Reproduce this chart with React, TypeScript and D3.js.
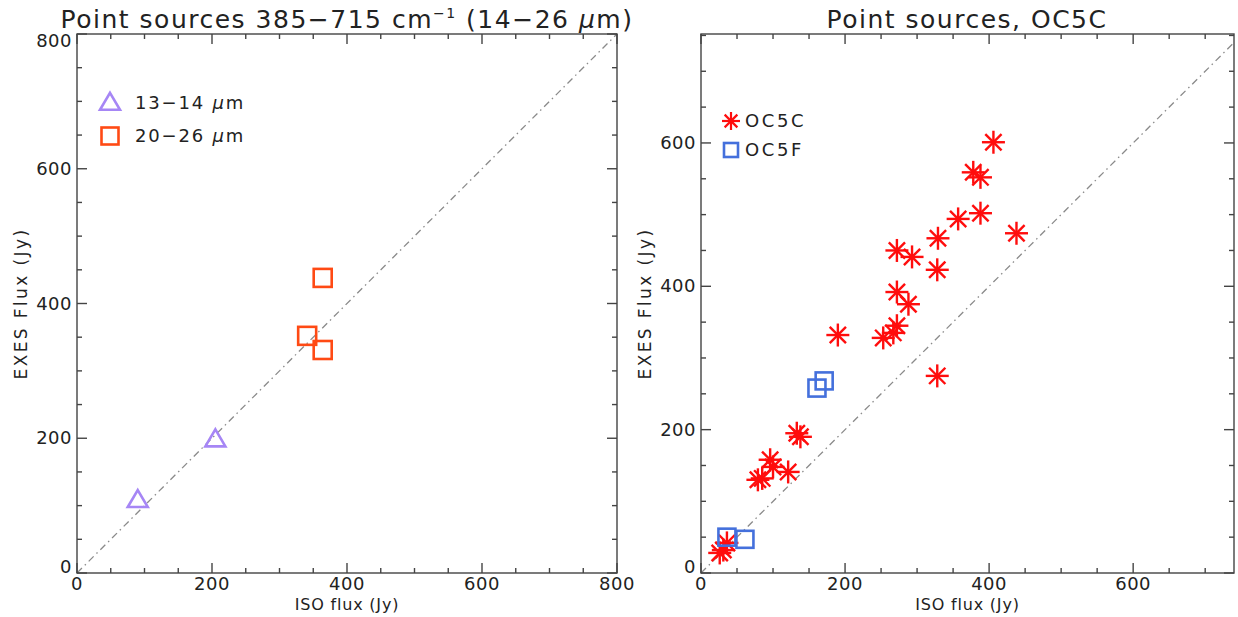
import React from "react";
import * as d3 from "d3";

// ---------- Data ----------
const leftTriangles: [number, number][] = [
  [90, 108],
  [205, 198],
];
const leftSquares: [number, number][] = [
  [364, 438],
  [341, 352],
  [364, 331],
];
const rightStars: [number, number][] = [
  [406, 601], [378, 559], [388, 552], [388, 502], [357, 494], [438, 474],
  [329, 467], [272, 450], [293, 441], [328, 423], [272, 392], [288, 375],
  [272, 345], [267, 335], [253, 328], [190, 332], [328, 275], [133, 195],
  [138, 190], [96, 158], [100, 148], [85, 132], [79, 130], [121, 141],
  [31, 32], [26, 28], [36, 42],
];
const rightSquares: [number, number][] = [
  [36, 50], [61, 47], [161, 258], [171, 268],
];
const leftTicks = [0, 200, 400, 600, 800];
const rightTicks = [0, 200, 400, 600];

const FONT = "'DejaVu Sans', 'Liberation Sans', sans-serif";
const AXIS = "#444";
const TXT = "#222";

type PanelProps = {
  x0: number; x1: number; y0: number; y1: number;
  xDomain: [number, number]; yDomain: [number, number];
  ticks: number[]; minorStep: number;
  title: React.ReactNode; titleX: number;
  children: (sx: d3.ScaleLinear<number, number>, sy: d3.ScaleLinear<number, number>) => React.ReactNode;
};

function Panel(p: PanelProps) {
  const sx = d3.scaleLinear().domain(p.xDomain).range([p.x0, p.x1]);
  const sy = d3.scaleLinear().domain(p.yDomain).range([p.y0, p.y1]);
  const minorX = d3.range(p.xDomain[0], p.xDomain[1] + 0.001, p.minorStep);
  const minorY = d3.range(p.yDomain[0], p.yDomain[1] + 0.001, p.minorStep);
  const isMajor = (v: number) => p.ticks.includes(v);
  const ticks: React.ReactNode[] = [];
  minorX.forEach((v, i) => {
    const L = isMajor(v) ? 10 : 5;
    const x = sx(v);
    ticks.push(<line key={"xb" + i} x1={x} x2={x} y1={p.y0} y2={p.y0 - L} />);
    ticks.push(<line key={"xt" + i} x1={x} x2={x} y1={p.y1} y2={p.y1 + L} />);
  });
  minorY.forEach((v, i) => {
    const L = isMajor(v) ? 10 : 5;
    const y = sy(v);
    ticks.push(<line key={"yl" + i} x1={p.x0} x2={p.x0 + L} y1={y} y2={y} />);
    ticks.push(<line key={"yr" + i} x1={p.x1} x2={p.x1 - L} y1={y} y2={y} />);
  });
  const dmax = Math.min(p.xDomain[1], p.yDomain[1]);
  return (
    <g>
      {/* diagonal 1:1 line */}
      <line
        x1={sx(0)} y1={sy(0)} x2={sx(dmax)} y2={sy(dmax)}
        stroke="#8a8a8a" strokeWidth={1.3} strokeDasharray="7,4,1.5,4"
      />
      {p.children(sx, sy)}
      <g stroke={AXIS} strokeWidth={1.4}>
        <rect x={p.x0} y={p.y1} width={p.x1 - p.x0} height={p.y0 - p.y1} fill="none" />
        {ticks}
      </g>
      <g fontFamily={FONT} fontSize={18} fill={TXT} letterSpacing={0.5}>
        {p.ticks.filter((t) => t <= p.xDomain[1]).map((t) => (
          <text key={"xl" + t} x={sx(t)} y={p.y0 + 17} textAnchor="middle">{t}</text>
        ))}
        {p.ticks.filter((t) => t <= p.yDomain[1]).map((t) => {
          let y = sy(t) + 6;
          if (t === 0) y -= 6;
          if (t === 800) y += 7;
          return (
            <text key={"yl" + t} x={p.x0 - 5} y={y} textAnchor="end">{t}</text>
          );
        })}
      </g>
      <text
        x={(p.x0 + p.x1) / 2} y={p.y0 + 37} textAnchor="middle"
        fontFamily={FONT} fontSize={16} fill={TXT} letterSpacing={0.8}
      >ISO flux (Jy)</text>
      <text
        transform={`translate(${p.x0 - 50},${(p.y0 + p.y1) / 2}) rotate(-90)`}
        textAnchor="middle" fontFamily={FONT} fontSize={17} fill={TXT} letterSpacing={2.4}
      >EXES Flux (Jy)</text>
      <text
        x={p.titleX} y={28} textAnchor="middle"
        fontFamily={FONT} fontSize={25} fill={TXT} letterSpacing={1.5}
      >{p.title}</text>
    </g>
  );
}

function Star({ x, y, r, color, w }: { x: number; y: number; r: number; color: string; w: number }) {
  const d = r * Math.SQRT1_2;
  return (
    <g stroke={color} strokeWidth={w} strokeLinecap="butt">
      <line x1={x} y1={y - r} x2={x} y2={y + r} />
      <line x1={x - r} y1={y} x2={x + r} y2={y} />
      <line x1={x - d} y1={y - d} x2={x + d} y2={y + d} />
      <line x1={x - d} y1={y + d} x2={x + d} y2={y - d} />
    </g>
  );
}

function Tri({ x, y, s, color }: { x: number; y: number; s: number; color: string }) {
  const h = s * 0.85;
  return (
    <path
      d={`M${x},${y - h * 0.6} L${x + s / 2},${y + h * 0.4} L${x - s / 2},${y + h * 0.4} Z`}
      fill="none" stroke={color} strokeWidth={2.6} strokeLinejoin="miter"
    />
  );
}

function Sq({ x, y, s, color }: { x: number; y: number; s: number; color: string }) {
  return <rect x={x - s / 2} y={y - s / 2} width={s} height={s} fill="none" stroke={color} strokeWidth={2.6} />;
}

const PURPLE = "#a686f5";
const ORANGE = "#ff4a14";
const RED = "#ff0d0d";
const BLUE = "#4470dc";

export default function App() {
  return (
    <svg width={1238} height={617} style={{ display: "block", position: "absolute", left: 0, top: 0, background: "#fff" }}>
      <Panel
        x0={77} x1={617} y0={573} y1={34}
        xDomain={[0, 800]} yDomain={[0, 800]}
        ticks={leftTicks} minorStep={50}
        titleX={347}
        title={
          <>
            Point sources 385−715 cm
            <tspan dy={-10} fontSize={14}>−1</tspan>
            <tspan dy={10}> (14−26 </tspan>
            <tspan fontStyle="italic">μ</tspan>
            <tspan>m)</tspan>
          </>
        }
      >
        {(sx, sy) => (
          <g>
            {leftTriangles.map(([a, b], i) => (
              <Tri key={"t" + i} x={sx(a)} y={sy(b)} s={20} color={PURPLE} />
            ))}
            {leftSquares.map(([a, b], i) => (
              <Sq key={"s" + i} x={sx(a)} y={sy(b)} s={18} color={ORANGE} />
            ))}
          </g>
        )}
      </Panel>
      {/* left legend */}
      <Tri x={110} y={103} s={20} color={PURPLE} />
      <text x={135} y={109} fontFamily={FONT} fontSize={18} fill={TXT} letterSpacing={1.8}>
        13−14 <tspan fontStyle="italic">μ</tspan>m
      </text>
      <Sq x={110} y={136} s={17} color={ORANGE} />
      <text x={135} y={142} fontFamily={FONT} fontSize={18} fill={TXT} letterSpacing={1.8}>
        20−26 <tspan fontStyle="italic">μ</tspan>m
      </text>

      <Panel
        x0={701} x1={1234} y0={573} y1={34}
        xDomain={[0, 740]} yDomain={[0, 752]}
        ticks={rightTicks} minorStep={50}
        titleX={967}
        title={<>Point sources, OC5C</>}
      >
        {(sx, sy) => (
          <g>
            {rightStars.map(([a, b], i) => (
              <Star key={"r" + i} x={sx(a)} y={sy(b)} r={11.5} color={RED} w={2.4} />
            ))}
            {rightSquares.map(([a, b], i) => (
              <Sq key={"b" + i} x={sx(a)} y={sy(b)} s={17} color={BLUE} />
            ))}
          </g>
        )}
      </Panel>
      {/* right legend */}
      <Star x={731} y={121} r={9} color={RED} w={2.2} />
      <text x={745} y={127} fontFamily={FONT} fontSize={18} fill={TXT} letterSpacing={2.6}>OC5C</text>
      <Sq x={731} y={150} s={14} color={BLUE} />
      <text x={745} y={156} fontFamily={FONT} fontSize={18} fill={TXT} letterSpacing={2.6}>OC5F</text>
    </svg>
  );
}
